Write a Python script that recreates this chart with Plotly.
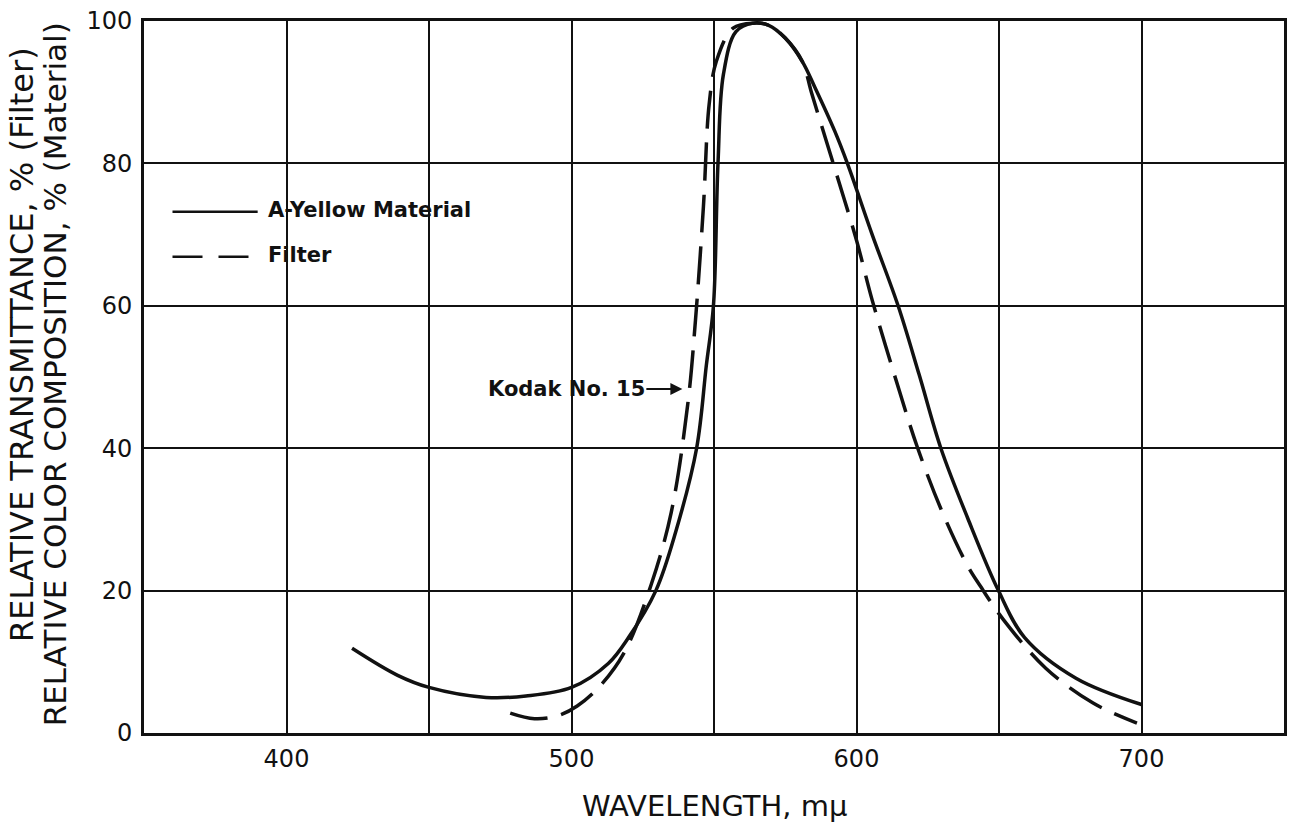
import plotly.graph_objects as go

# A-Yellow Material (solid)
wl_material = [423, 439, 450, 470, 484, 500, 513, 520, 529.6, 536.6, 543.9, 547.3, 549.8, 551.4,
               553.3, 557.7, 563.6, 569.2, 575, 581, 585.5, 592.3, 596.8, 605.5, 614.6, 622,
               629.6, 639, 649.8, 659, 677, 700]
material = [11.9, 8.1, 6.4, 5.0, 5.2, 6.4, 9.8, 13.4, 20.0, 28.3, 40, 51.6, 60, 80,
            92.5, 98.5, 99.7, 99.4, 97.6, 94.3, 90.6, 84.6, 80, 70, 60, 50.3,
            40, 30.2, 20, 13.4, 7.7, 4.0]

# Filter, Kodak No. 15 (dashed)
wl_filter = [478.5, 487, 495, 502, 510, 518.5, 528, 535, 540.8, 543.5, 546.3, 548.3, 550.8,
             556.7, 564, 569.2, 575, 581, 584.3, 591.6, 600, 605.5, 615, 621.3, 629.6, 638.7,
             643.5, 651.4, 666.4, 683, 698.4]
filt = [2.8, 2.0, 2.4, 3.8, 6.6, 11.3, 20.9, 31, 46.2, 58, 74, 88.3, 94.3,
        99, 99.7, 99.4, 97.6, 94.3, 89.8, 80.3, 69.2, 60.8, 48.1, 40.2, 31.5, 23.7,
        20.6, 16.0, 9.1, 4.2, 1.4]

x_ticks = [400, 500, 600, 700]
y_ticks = [0, 20, 40, 60, 80, 100]

FONT = "DejaVu Sans"
INK = "#111111"

fig = go.Figure()
fig.add_trace(go.Scatter(x=wl_material, y=material, mode="lines", name="A-Yellow Material",
                         line=dict(color=INK, width=3.5, shape="spline", smoothing=1.0)))
fig.add_trace(go.Scatter(x=wl_filter, y=filt, mode="lines", name="Filter",
                         line=dict(color=INK, width=3.5, shape="spline", smoothing=1.0,
                                   dash="38px,14px")))

fig.update_layout(
    width=1294, height=830,
    margin=dict(l=144, r=7, t=16, b=97),
    paper_bgcolor="white", plot_bgcolor="white",
    showlegend=False,
    font=dict(family=FONT, color=INK),
    xaxis=dict(range=[350, 750], tickvals=x_ticks, ticktext=[str(v) for v in x_ticks],
               showgrid=True, gridcolor=INK, gridwidth=1.5,
               minor=dict(dtick=50, tick0=350, showgrid=True, gridcolor=INK, gridwidth=1.5),
               showline=True, linecolor=INK, linewidth=3, mirror=True,
               ticks="", tickfont=dict(size=24, family=FONT, color=INK),
               ticklabelstandoff=2, zeroline=False),
    yaxis=dict(range=[0, 100], tickvals=y_ticks, ticktext=[str(v) for v in y_ticks],
               showgrid=True, gridcolor=INK, gridwidth=1.5,
               showline=True, linecolor=INK, linewidth=3, mirror=True,
               ticks="", tickfont=dict(size=24, family=FONT, color=INK),
               ticklabelstandoff=4, zeroline=False),
)

# axis titles
fig.add_annotation(text="WAVELENGTH, mμ", xref="paper", yref="paper", x=0.501, y=-0.102,
                   showarrow=False, xanchor="center", yanchor="middle",
                   font=dict(size=29, family=FONT, color=INK))
fig.add_annotation(text="RELATIVE TRANSMITTANCE, % (Filter)", xref="paper", yref="paper",
                   x=-0.1067, y=0.545, textangle=-90, showarrow=False,
                   xanchor="center", yanchor="middle",
                   font=dict(size=32, family=FONT, color=INK))
fig.add_annotation(text="RELATIVE COLOR COMPOSITION, % (Material)", xref="paper", yref="paper",
                   x=-0.0779, y=0.504, textangle=-90, showarrow=False,
                   xanchor="center", yanchor="middle",
                   font=dict(size=31, family=FONT, color=INK))

# legend (drawn inside the plot)
fig.add_shape(type="line", xref="paper", yref="paper", x0=0.025, x1=0.0997, y0=0.732, y1=0.732,
              line=dict(color=INK, width=2.5))
fig.add_shape(type="line", xref="paper", yref="paper", x0=0.025, x1=0.0997, y0=0.669, y1=0.669,
              line=dict(color=INK, width=2.5, dash="30px,16px"))
fig.add_annotation(text="<b>A-Yellow Material</b>", xref="paper", yref="paper", x=0.107, y=0.734,
                   showarrow=False, xanchor="left", yanchor="middle",
                   font=dict(size=21, family=FONT, color=INK))
fig.add_annotation(text="<b>Filter</b>", xref="paper", yref="paper", x=0.107, y=0.671,
                   showarrow=False, xanchor="left", yanchor="middle",
                   font=dict(size=21, family=FONT, color=INK))

# Kodak label
fig.add_annotation(text="<b>Kodak No. 15</b>", x=539.6, y=48.3, xref="x", yref="y",
                   showarrow=True, ax=-118, ay=0, arrowhead=2, arrowsize=1.2, arrowwidth=2,
                   arrowcolor=INK, standoff=2,
                   font=dict(size=21, family=FONT, color=INK))

fig.write_html("out.html")
